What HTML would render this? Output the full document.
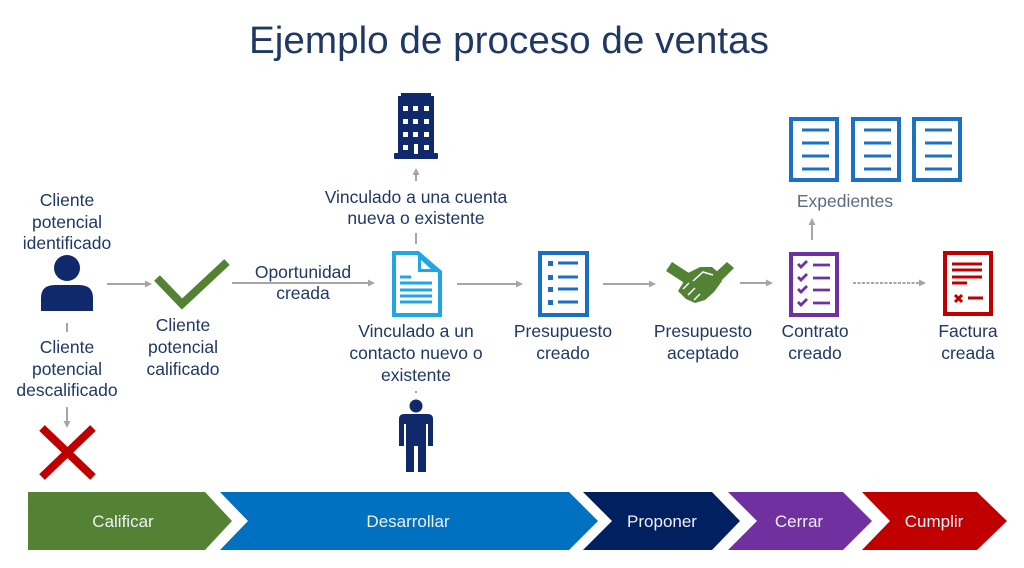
<!DOCTYPE html>
<html><head><meta charset="utf-8"><style>
html,body{margin:0;padding:0;background:#fff;width:1024px;height:568px;overflow:hidden}
svg{display:block}
text{font-family:"Liberation Sans",Arial,sans-serif}
.lb{font-size:17.5px;fill:#1f3864;text-anchor:middle}
.ch{font-size:17px;fill:#eef0f6;text-anchor:middle}
.ar{stroke:#a6a6a6;stroke-width:2;fill:none}
.ah{fill:#a6a6a6}
</style></head><body>
<svg width="1024" height="568" viewBox="0 0 1024 568" xmlns="http://www.w3.org/2000/svg">
<rect width="1024" height="568" fill="#fff"/>
<text x="509" y="53" font-size="38" fill="#1f3864" text-anchor="middle" textLength="520" lengthAdjust="spacingAndGlyphs">Ejemplo de proceso de ventas</text>

<!-- chevrons -->
<path d="M28,492 L205,492 L232,521 L205,550 L28,550 Z" fill="#548235"/>
<path d="M220,492 L569,492 L598,521 L569,550 L220,550 L248,521 Z" fill="#0070c0"/>
<path d="M583,492 L712,492 L740,521 L712,550 L583,550 L612,521 Z" fill="#002060"/>
<path d="M728,492 L843,492 L872,521 L843,550 L728,550 L757,521 Z" fill="#7030a0"/>
<path d="M862,492 L977,492 L1007,521 L977,550 L862,550 L890,521 Z" fill="#c00000"/>
<text class="ch" x="123" y="527">Calificar</text>
<text class="ch" x="408" y="527">Desarrollar</text>
<text class="ch" x="662" y="527">Proponer</text>
<text class="ch" x="799" y="527">Cerrar</text>
<text class="ch" x="934" y="527">Cumplir</text>

<!-- labels -->
<text class="lb" x="67" y="206">Cliente</text>
<text class="lb" x="67" y="228">potencial</text>
<text class="lb" x="67" y="249">identificado</text>
<text class="lb" x="67" y="353">Cliente</text>
<text class="lb" x="67" y="375">potencial</text>
<text class="lb" x="67" y="396">descalificado</text>
<text class="lb" x="183" y="331">Cliente</text>
<text class="lb" x="183" y="353">potencial</text>
<text class="lb" x="183" y="375">calificado</text>
<text class="lb" x="303" y="278">Oportunidad</text>
<text class="lb" x="303" y="299">creada</text>
<text class="lb" x="416" y="203">Vinculado a una cuenta</text>
<text class="lb" x="416" y="224">nueva o existente</text>
<text class="lb" x="416" y="337">Vinculado a un</text>
<text class="lb" x="416" y="359">contacto nuevo o</text>
<text class="lb" x="416" y="381">existente</text>
<text class="lb" x="563" y="337">Presupuesto</text>
<text class="lb" x="563" y="359">creado</text>
<text class="lb" x="703" y="337">Presupuesto</text>
<text class="lb" x="703" y="359">aceptado</text>
<text class="lb" x="815" y="337">Contrato</text>
<text class="lb" x="815" y="359">creado</text>
<text class="lb" x="968" y="337">Factura</text>
<text class="lb" x="968" y="359">creada</text>
<text class="lb" x="845" y="207" style="fill:#5d6b80">Expedientes</text>

<!-- connectors -->
<line class="ar" x1="107" y1="284" x2="146" y2="284"/><path class="ah" d="M152,284 L145,280.5 L145,287.5 Z"/>
<line class="ar" x1="232" y1="283" x2="369" y2="283"/><path class="ah" d="M375,283 L368,279.5 L368,286.5 Z"/>
<line class="ar" x1="457" y1="284" x2="517" y2="284"/><path class="ah" d="M523,284 L516,280.5 L516,287.5 Z"/>
<line class="ar" x1="603" y1="284" x2="650" y2="284"/><path class="ah" d="M656,284 L649,280.5 L649,287.5 Z"/>
<line class="ar" x1="740" y1="283" x2="767" y2="283"/><path class="ah" d="M773,283 L766,279.5 L766,286.5 Z"/>
<line class="ar" x1="853" y1="283" x2="920" y2="283" stroke-dasharray="3,1.5"/><path class="ah" d="M926,283 L919,279.5 L919,286.5 Z"/>
<line class="ar" x1="416" y1="181" x2="416" y2="174"/><path class="ah" d="M416,168 L412.5,175 L419.5,175 Z"/>
<line class="ar" x1="67" y1="407" x2="67" y2="422"/><path class="ah" d="M67,428 L63.5,421 L70.5,421 Z"/>
<line class="ar" x1="812" y1="240" x2="812" y2="224"/><path class="ah" d="M812,218 L808.5,225 L815.5,225 Z"/>
<line class="ar" x1="67" y1="323" x2="67" y2="332"/>
<line class="ar" x1="416" y1="233" x2="416" y2="244"/>
<line class="ar" x1="416" y1="391" x2="416" y2="393"/>

<!-- person left -->
<circle cx="67" cy="268" r="13" fill="#10296a"/>
<path d="M41,311 L41,298 Q41,285 55,285 L79,285 Q93,285 93,298 L93,311 Z" fill="#10296a"/>

<!-- check -->
<polyline points="157,278 182,304 227,262" fill="none" stroke="#548235" stroke-width="8"/>

<!-- red X -->
<line x1="42" y1="428" x2="93" y2="477" stroke="#c00000" stroke-width="8"/>
<line x1="93" y1="428" x2="42" y2="477" stroke="#c00000" stroke-width="8"/>

<!-- building -->
<g fill="#10296a">
<rect x="401" y="93" width="30" height="4"/>
<rect x="398" y="96" width="36" height="58"/>
<rect x="394" y="153" width="44" height="6" rx="1"/>
</g>
<g fill="#fff">
<rect x="403" y="106" width="5" height="5"/><rect x="413" y="106" width="5" height="5"/><rect x="424" y="106" width="5" height="5"/>
<rect x="403" y="119" width="5" height="5"/><rect x="413" y="119" width="5" height="5"/><rect x="424" y="119" width="5" height="5"/>
<rect x="403" y="132" width="5" height="5"/><rect x="413" y="132" width="5" height="5"/><rect x="424" y="132" width="5" height="5"/>
<rect x="403" y="145" width="5" height="5"/><rect x="414" y="144" width="4" height="10"/><rect x="424" y="145" width="5" height="5"/>
</g>

<!-- document -->
<path d="M394,253 L418,253 L440,272 L440,315 L394,315 Z" fill="#fff" stroke="#1fa6e3" stroke-width="4" stroke-linejoin="miter"/>
<path d="M418,253 L418,272 L440,272 Z" fill="#1fa6e3"/>
<path d="M421,260 L421,269 L431,269 Z" fill="#fff"/>
<g stroke="#1fa6e3" stroke-width="3">
<line x1="400" y1="277" x2="411" y2="277"/>
<line x1="400" y1="283" x2="432" y2="283"/>
<line x1="400" y1="290" x2="432" y2="290"/>
<line x1="400" y1="296" x2="432" y2="296"/>
<line x1="400" y1="302" x2="432" y2="302"/>
</g>

<!-- presupuesto -->
<rect x="540" y="253" width="47" height="62" fill="#fff" stroke="#1b6ec2" stroke-width="4"/>
<g fill="#1b6ec2">
<rect x="548" y="261" width="5" height="5"/><rect x="548" y="275" width="5" height="5"/>
<rect x="548" y="287" width="5" height="5"/><rect x="548" y="300" width="5" height="5"/>
</g>
<g stroke="#1b6ec2" stroke-width="3">
<line x1="558" y1="263" x2="578" y2="263"/><line x1="558" y1="277" x2="578" y2="277"/>
<line x1="558" y1="289" x2="578" y2="289"/><line x1="558" y1="302" x2="578" y2="302"/>
</g>

<!-- handshake -->
<g fill="#548235">
<path d="M672,262 L692,275 L686,284 L666,271 Z"/>
<path d="M727,262 L734,268 L722,280 L715,273 Z"/>
<path d="M686,274 L700,267 L712,267 L719,273 L722,281 L714,292 L705,300 L695,303 L686,299 L678,291 L683,283 Z"/>
</g>
<g stroke="#fff" stroke-width="1.5" fill="none">
<path d="M693,281 L703,272 L713,275"/>
<path d="M683,289 L689,283 M688,295 L695,288 M694,300 L700,294"/>
</g>

<!-- contrato -->
<rect x="791" y="254" width="46" height="61" fill="#fff" stroke="#7030a0" stroke-width="4"/>
<g stroke="#7030a0" stroke-width="2.8" fill="none">
<polyline points="798,264 801,267 807,261"/>
<polyline points="798,277 801,280 807,274"/>
<polyline points="798,289 801,292 807,286"/>
<polyline points="798,302 801,305 807,299"/>
<line x1="813" y1="265" x2="830" y2="265"/><line x1="813" y1="278" x2="830" y2="278"/>
<line x1="813" y1="290" x2="830" y2="290"/><line x1="813" y1="303" x2="830" y2="303"/>
</g>

<!-- factura -->
<rect x="945" y="253" width="46" height="61" fill="#fff" stroke="#c00000" stroke-width="4"/>
<g stroke="#c00000" stroke-width="3" fill="none">
<line x1="952" y1="264" x2="982" y2="264"/><line x1="952" y1="270" x2="982" y2="270"/>
<line x1="952" y1="277" x2="982" y2="277"/><line x1="952" y1="283" x2="967" y2="283"/>
<line x1="955" y1="295" x2="962" y2="302"/><line x1="962" y1="295" x2="955" y2="302"/>
<line x1="968" y1="298" x2="983" y2="298"/>
</g>

<!-- expedientes -->
<g fill="#fff" stroke="#1b72c4" stroke-width="4">
<rect x="791" y="119" width="46" height="61"/>
<rect x="853" y="119" width="46" height="61"/>
<rect x="914" y="119" width="46" height="61"/>
</g>
<g stroke="#1b72c4" stroke-width="3">
<line x1="802" y1="130" x2="829" y2="130"/><line x1="802" y1="143" x2="829" y2="143"/><line x1="802" y1="156" x2="829" y2="156"/><line x1="802" y1="169" x2="829" y2="169"/>
<line x1="864" y1="130" x2="891" y2="130"/><line x1="864" y1="143" x2="891" y2="143"/><line x1="864" y1="156" x2="891" y2="156"/><line x1="864" y1="169" x2="891" y2="169"/>
<line x1="925" y1="130" x2="952" y2="130"/><line x1="925" y1="143" x2="952" y2="143"/><line x1="925" y1="156" x2="952" y2="156"/><line x1="925" y1="169" x2="952" y2="169"/>
</g>

<!-- standing person -->
<g fill="#10296a">
<circle cx="416" cy="406" r="6.5"/>
<path d="M404,414 L428,414 Q433,414 433,419 L433,446 L428,446 L428,424 L426,424 L426,472 L418,472 L418,446 L414,446 L414,472 L406,472 L406,424 L404,424 L404,446 L399,446 L399,419 Q399,414 404,414 Z"/>
</g>
</svg>
</body></html>
